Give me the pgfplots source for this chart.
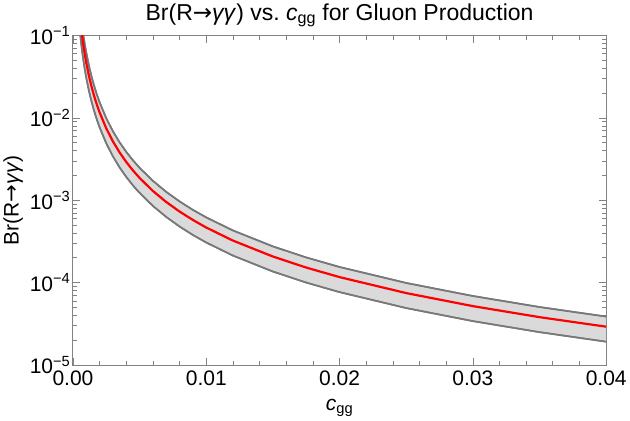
\documentclass[border=0pt]{standalone}
\usepackage{fontspec}
\setmainfont{Liberation Sans}
\newfontfamily\arrowfont{DejaVu Sans}
\usepackage{pgfplots}
\usepackage{pgfplotstable}
\pgfplotsset{compat=1.18}
\usepgfplotslibrary{fillbetween}

\definecolor{bandline}{RGB}{120,120,120}
\definecolor{bandfill}{RGB}{218,218,218}
\definecolor{framegray}{RGB}{130,130,130}

\newcommand{\ra}{{\arrowfont →}}

% c_gg, central Br, upper edge, lower edge
\pgfplotstableread{
x       mid        up         lo
0.0005  0.1868     0.248      0.1228
0.0006  0.1297     0.1722     0.0853
0.0007  0.0953     0.1265     0.0627
0.0008  0.0730     0.0969     0.0480
0.0009  0.0577     0.0765     0.0379
0.0010  0.0467     0.0620     0.0307
0.0012  0.03243    0.04306    0.02132
0.0014  0.02383    0.03163    0.01566
0.0016  0.01824    0.02422    0.01199
0.0018  0.01441    0.01914    0.00948
0.0020  0.011675   0.0155     0.007675
0.0025  0.007472   0.00992    0.004912
0.0030  0.005189   0.006889   0.003411
0.0035  0.003812   0.005061   0.002506
0.0040  0.002919   0.003875   0.001919
0.0045  0.002306   0.003062   0.001516
0.0050  0.001868   0.00248    0.001228
0.0060  0.001297   0.001722   0.000853
0.0070  0.000953   0.001265   0.000627
0.0080  0.000730   0.000969   0.000480
0.0090  0.000577   0.000765   0.000379
0.0100  0.000467   0.000620   0.000307
0.0120  0.0003243  0.0004306  0.0002132
0.0150  0.0002076  0.0002756  0.0001364
0.0175  0.0001525  0.0002024  0.0001002
0.0200  0.00011675 0.000155   0.00007675
0.0250  0.00007472 0.0000992  0.00004912
0.0300  0.00005189 0.00006889 0.00003411
0.0350  0.00003812 0.00005061 0.00002506
0.0400  0.00002919 0.00003875 0.00001919
}\brdata

\begin{document}
\begin{tikzpicture}
\begin{axis}[
  scale only axis, width=531bp, height=328bp,
  ymode=log, xmin=0, xmax=0.04, ymin=1e-5, ymax=1e-1,
  font=\fontsize{21}{25}\selectfont,
  xtick={0,0.01,0.02,0.03,0.04}, minor x tick num=4,
  scaled x ticks=false,
  xticklabel style={yshift=-2bp, /pgf/number format/.cd, fixed, fixed zerofill, precision=2, assume math mode=true},
  yticklabel style={xshift=1bp},
  ytick={1e-5,1e-4,1e-3,1e-2,1e-1},
  yticklabels={10\textsuperscript{−5},10\textsuperscript{−4},10\textsuperscript{−3},10\textsuperscript{−2},10\textsuperscript{−1}},
  tick align=inside,
  major tick length=7bp, minor tick length=4bp,
  axis line style={framegray, line width=1pt},
  every tick/.style={framegray, line width=0.8pt},
  title={Br(R\ra\textit{γγ}) vs.\ \textit{c}\textsubscript{gg} for Gluon Production},
  title style={font=\fontsize{23}{27}\selectfont, yshift=-1bp},
  xlabel={\textit{c}\textsubscript{gg}},
  ylabel={Br(R\ra\textit{γγ})},
  xlabel style={yshift=-7bp},
  ylabel style={yshift=0bp},
]
\addplot[bandline, line width=1.6pt, name path=upper] table[x=x, y=up] {\brdata};
\addplot[bandline, line width=1.6pt, name path=lower] table[x=x, y=lo] {\brdata};
% shaded band between the edges
\addplot[bandfill, draw=none] fill between[of=upper and lower];
% redraw the edges over the fill
\addplot[bandline, line width=1.6pt] table[x=x, y=up] {\brdata};
\addplot[bandline, line width=1.6pt] table[x=x, y=lo] {\brdata};
\addplot[red, line width=2.2pt] table[x=x, y=mid] {\brdata};
\end{axis}
\end{tikzpicture}
\end{document}
